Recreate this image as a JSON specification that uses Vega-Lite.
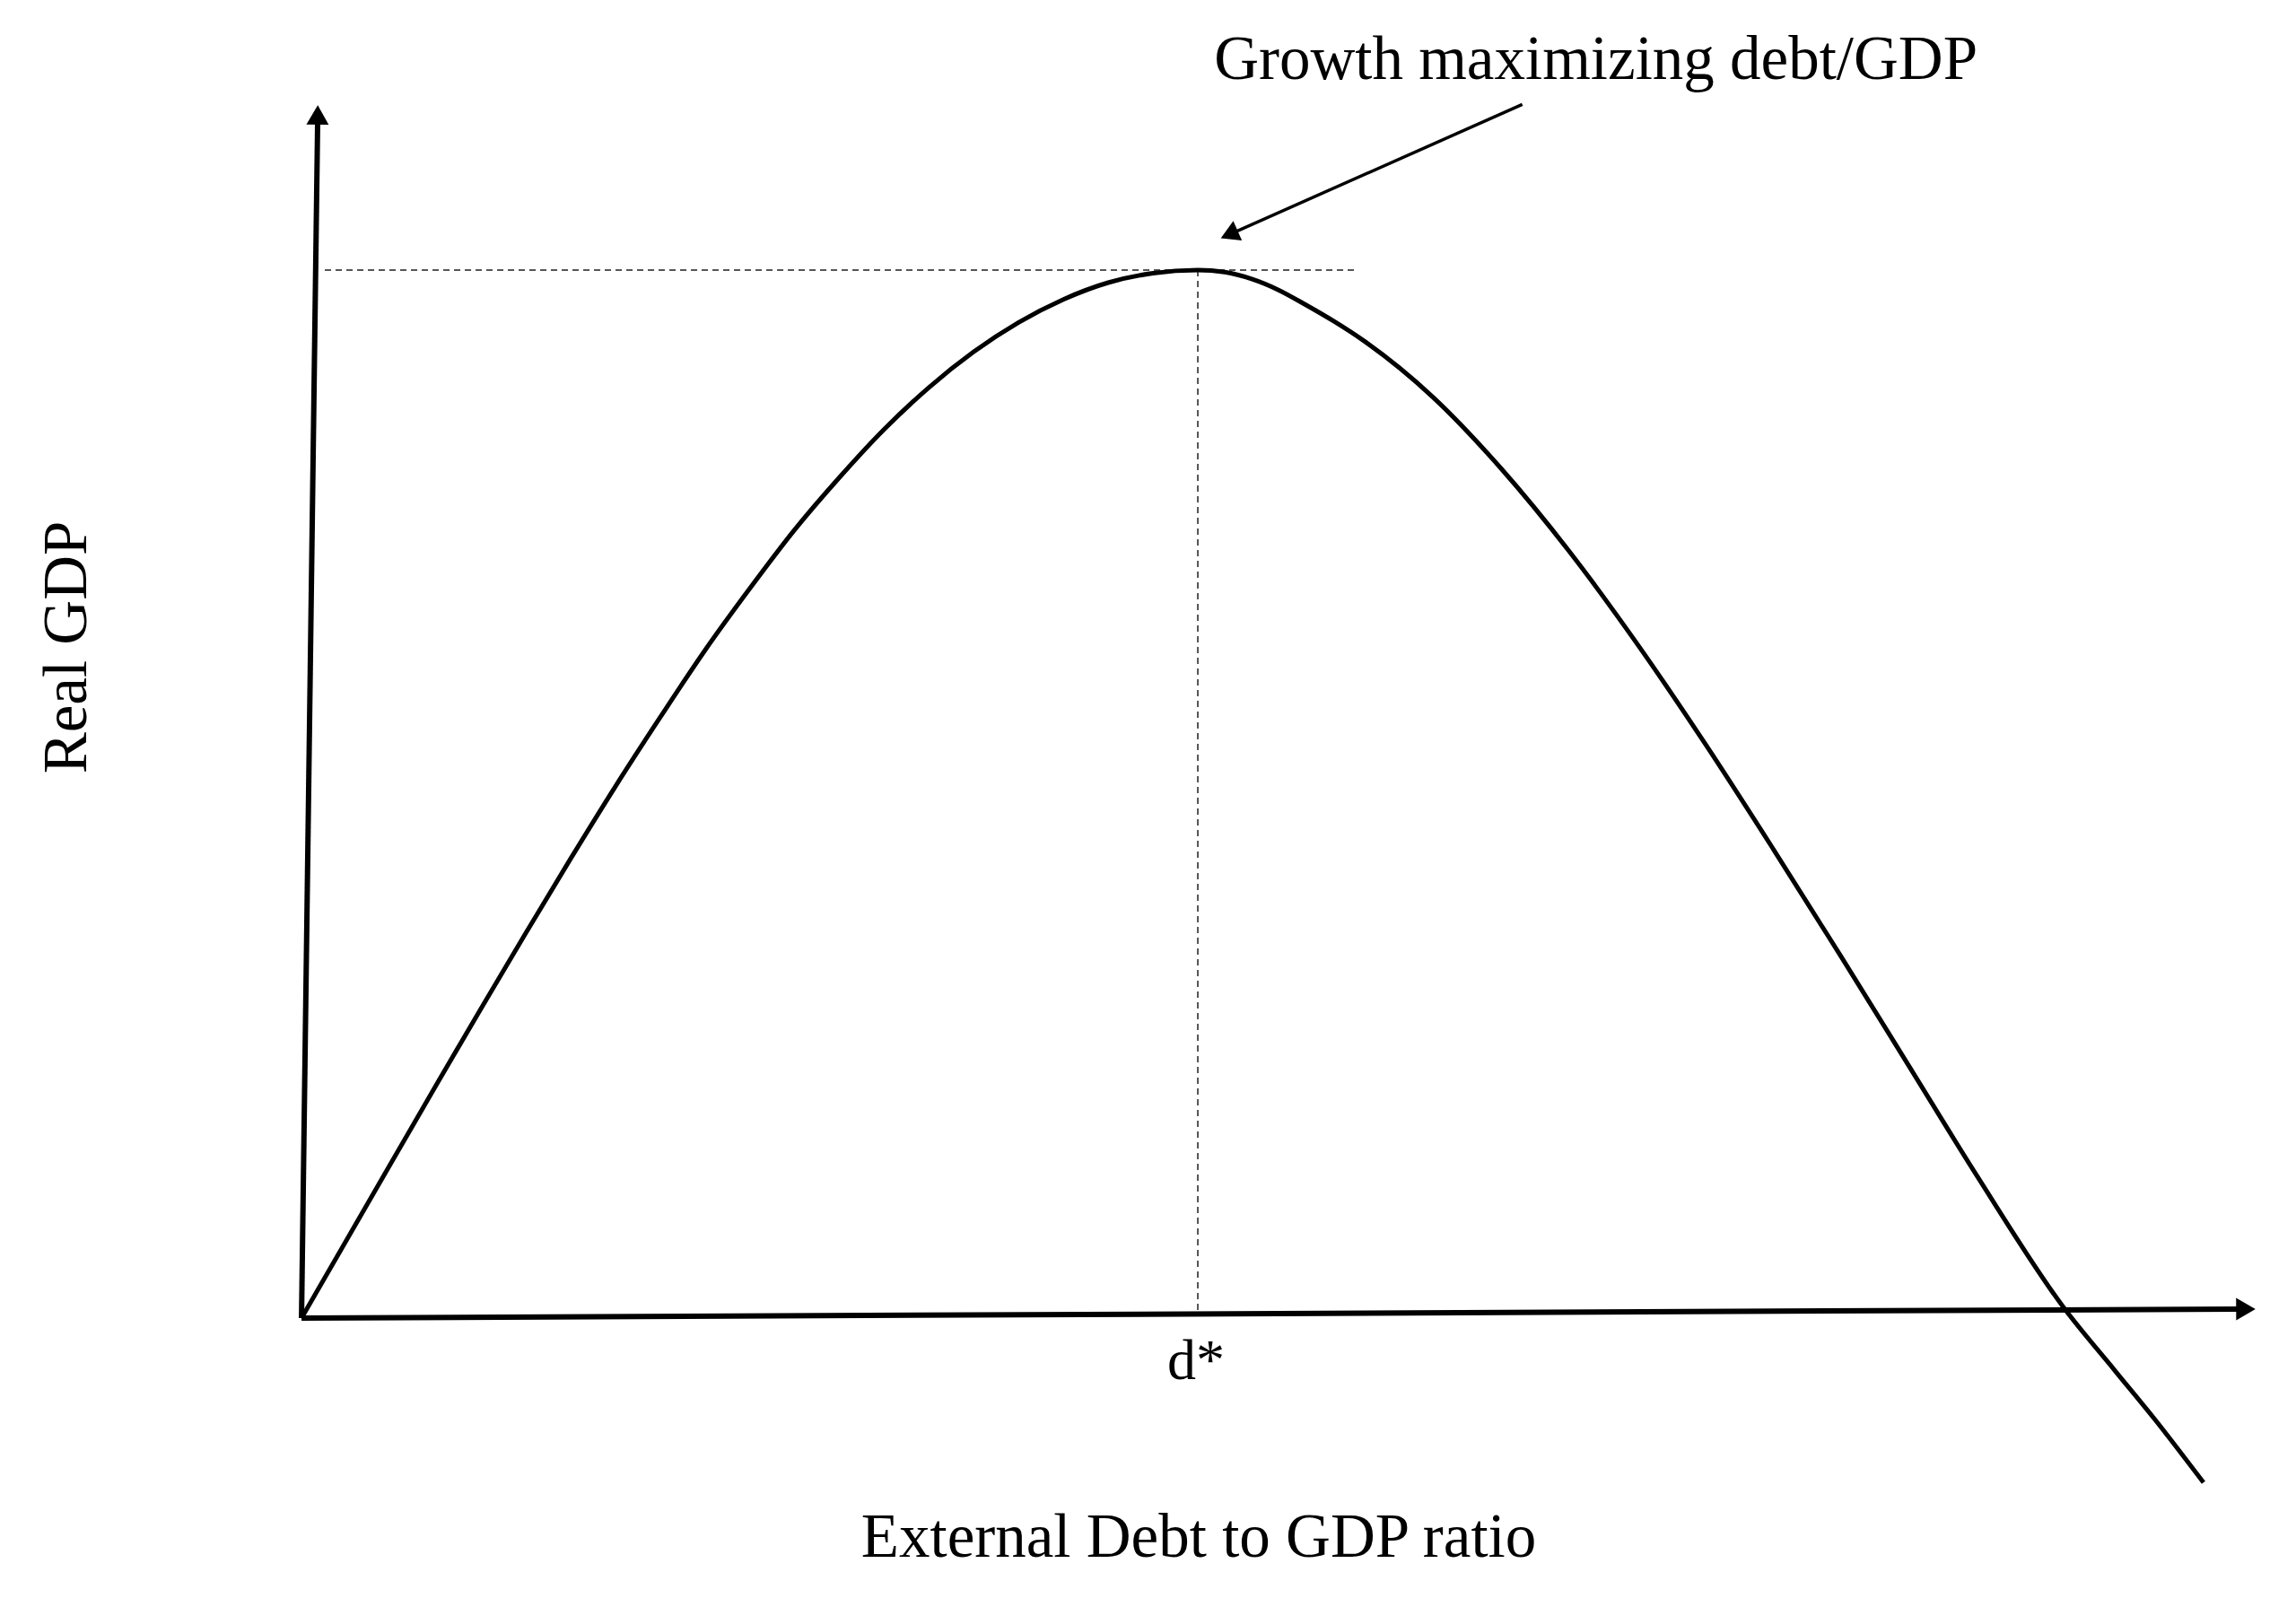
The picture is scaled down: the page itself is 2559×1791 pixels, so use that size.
{
  "$schema": "https://vega.github.io/schema/vega-lite/v6.json",
  "width": 2559,
  "height": 1791,
  "autosize": {"type": "none"},
  "padding": 0,
  "background": "white",
  "config": {"view": {"stroke": null}, "text": {"font": "Liberation Serif", "color": "#000000"}},
  "datasets": {
    "curve": [
      {"x": 0, "y": 0}, {"x": 2.5, "y": 7.4}, {"x": 5, "y": 14.8}, {"x": 7.5, "y": 22.2},
      {"x": 10, "y": 29.5}, {"x": 12.5, "y": 36.7}, {"x": 15, "y": 43.8}, {"x": 17.5, "y": 50.7},
      {"x": 20, "y": 57.3}, {"x": 22.5, "y": 63.7}, {"x": 25, "y": 69.6}, {"x": 27.5, "y": 75.2},
      {"x": 30, "y": 80.2}, {"x": 32.5, "y": 84.8}, {"x": 35, "y": 88.8}, {"x": 37.5, "y": 92.2},
      {"x": 40, "y": 95.0}, {"x": 42.5, "y": 97.2}, {"x": 45, "y": 98.8}, {"x": 47.5, "y": 99.7},
      {"x": 50, "y": 100}, {"x": 51.5, "y": 99.8}, {"x": 53, "y": 99.15}, {"x": 54.5, "y": 98.1},
      {"x": 56, "y": 96.7}, {"x": 57.6, "y": 95.1}, {"x": 59.3, "y": 93.2},
      {"x": 63.1, "y": 87.9}, {"x": 66.9, "y": 81.1}, {"x": 70.7, "y": 73.2}, {"x": 74.5, "y": 64.35},
      {"x": 78.3, "y": 54.8}, {"x": 82.1, "y": 44.75}, {"x": 85.9, "y": 34.45}, {"x": 89.7, "y": 23.96},
      {"x": 93.5, "y": 13.47}, {"x": 98.3, "y": 1.0}, {"x": 101.2, "y": -5.1}, {"x": 103.4, "y": -9.7},
      {"x": 106.1, "y": -15.7}
    ],
    "axes": [
      {"part": "y-axis", "x": 0, "y": 0, "x2": 0.9, "y2": 114.2},
      {"part": "x-axis", "x": 0, "y": 0, "x2": 108.0, "y2": 0.86}
    ],
    "heads": [
      {"part": "y-axis", "x": 0.9, "y": 114.8},
      {"part": "x-axis", "x": 108.46, "y": 0.86},
      {"part": "pointer", "x": 51.75, "y": 103.4}
    ],
    "guides": [
      {"part": "level", "x": 1.3, "y": 100, "x2": 58.9, "y2": 100},
      {"part": "dstar", "x": 50, "y": 100, "x2": 50, "y2": 0.4}
    ],
    "pointer": [{"x": 68.1, "y": 115.8, "x2": 51.9, "y2": 103.5}],
    "labels": [
      {"part": "title", "x": 72.2, "y": 118.2, "text": "Growth maximizing debt/GDP"},
      {"part": "xlabel", "x": 50.05, "y": -22.8, "text": "External Debt to GDP ratio"},
      {"part": "dstar", "x": 49.9, "y": -5.8, "text": "d*"},
      {"part": "ylabel", "x": -12.0, "y": 64.0, "text": "Real GDP"}
    ]
  },
  "encoding": {
    "x": {"field": "x", "type": "quantitative", "scale": {"domain": [-16.82, 111.26], "nice": false, "zero": false}, "axis": null},
    "y": {"field": "y", "type": "quantitative", "scale": {"domain": [-27.57, 125.77], "nice": false, "zero": false}, "axis": null}
  },
  "layer": [
    {
      "data": {"name": "guides"},
      "mark": {"type": "rule", "color": "#555555", "strokeWidth": 2, "strokeDash": [7, 5]},
      "encoding": {"x2": {"field": "x2"}, "y2": {"field": "y2"}}
    },
    {
      "data": {"name": "axes"},
      "mark": {"type": "rule", "color": "#000000", "strokeWidth": 6},
      "encoding": {"x2": {"field": "x2"}, "y2": {"field": "y2"}}
    },
    {
      "data": {"name": "curve"},
      "mark": {"type": "line", "color": "#000000", "strokeWidth": 5, "interpolate": "monotone"},
      "encoding": {}
    },
    {
      "data": {"name": "pointer"},
      "mark": {"type": "rule", "color": "#000000", "strokeWidth": 3.5},
      "encoding": {"x2": {"field": "x2"}, "y2": {"field": "y2"}}
    },
    {
      "data": {"name": "heads"},
      "transform": [{"filter": "datum.part === 'y-axis'"}],
      "mark": {"type": "point", "shape": "triangle-up", "filled": true, "color": "#000000", "opacity": 1, "size": 620, "angle": 0.8},
      "encoding": {}
    },
    {
      "data": {"name": "heads"},
      "transform": [{"filter": "datum.part === 'x-axis'"}],
      "mark": {"type": "point", "shape": "triangle-up", "filled": true, "color": "#000000", "opacity": 1, "size": 620, "angle": 89.7},
      "encoding": {}
    },
    {
      "data": {"name": "heads"},
      "transform": [{"filter": "datum.part === 'pointer'"}],
      "mark": {"type": "point", "shape": "triangle-up", "filled": true, "color": "#000000", "opacity": 1, "size": 560, "angle": 246},
      "encoding": {}
    },
    {
      "data": {"name": "labels"},
      "transform": [{"filter": "datum.part === 'title' || datum.part === 'xlabel'"}],
      "mark": {"type": "text", "fontSize": 69, "align": "center", "baseline": "alphabetic"},
      "encoding": {"text": {"field": "text"}}
    },
    {
      "data": {"name": "labels"},
      "transform": [{"filter": "datum.part === 'dstar'"}],
      "mark": {"type": "text", "fontSize": 64, "align": "center", "baseline": "alphabetic"},
      "encoding": {"text": {"field": "text"}}
    },
    {
      "data": {"name": "labels"},
      "transform": [{"filter": "datum.part === 'ylabel'"}],
      "mark": {"type": "text", "fontSize": 69, "align": "center", "baseline": "alphabetic", "angle": 270},
      "encoding": {"text": {"field": "text"}}
    }
  ]
}
